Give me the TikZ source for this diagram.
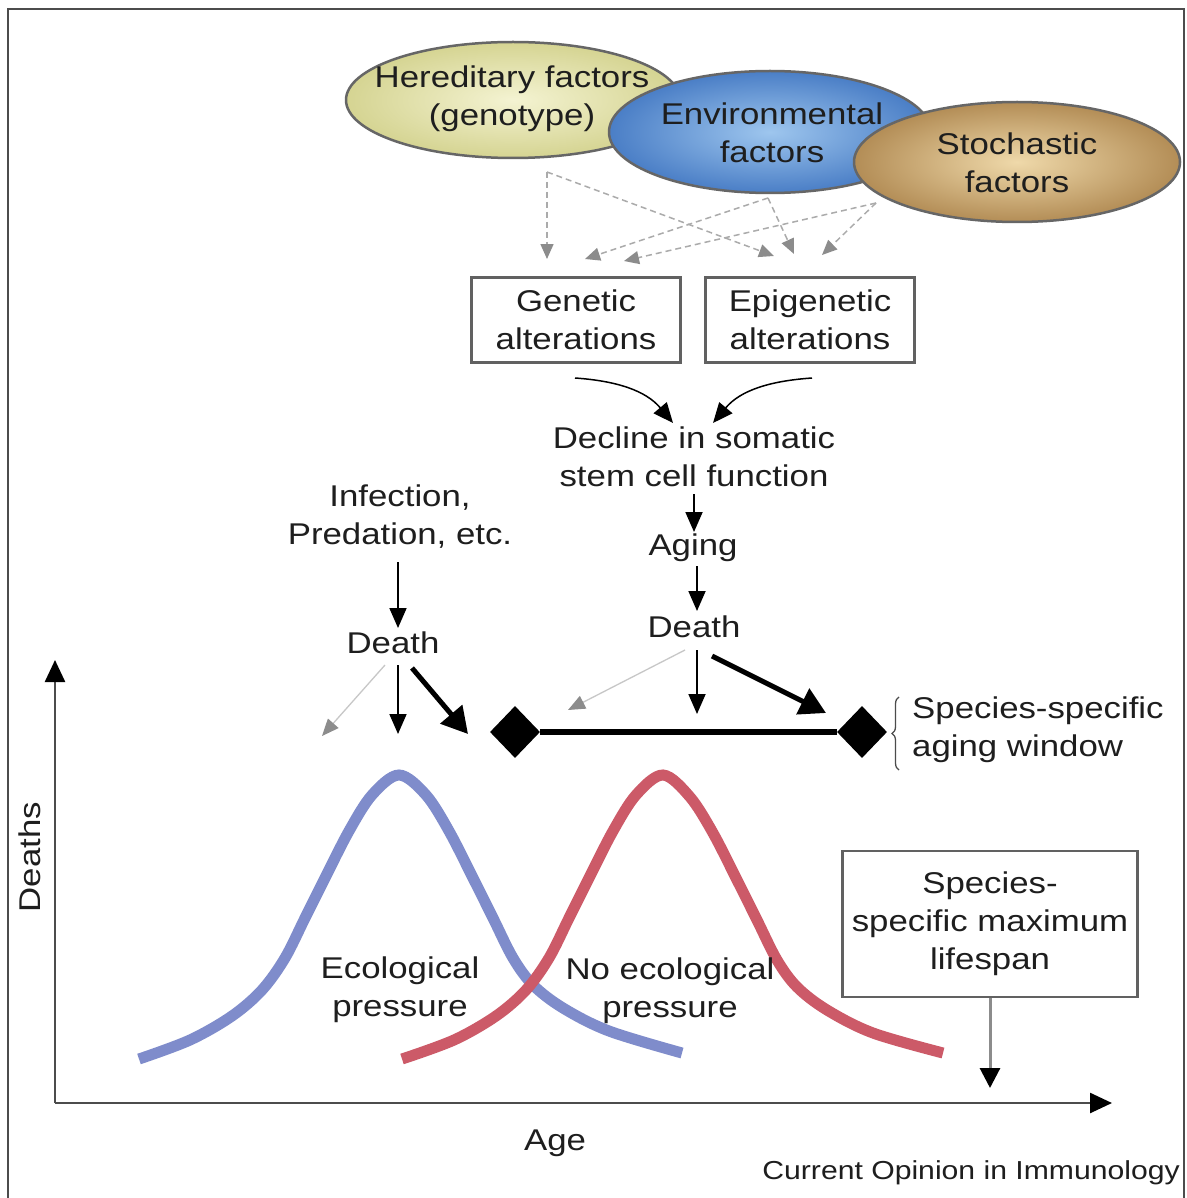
\documentclass[tikz,border=0pt]{standalone}
\usepackage{fontspec}
\setmainfont{Liberation Sans}[FakeStretch=1.16]
\usetikzlibrary{arrows.meta,shapes.geometric,decorations.pathreplacing}
\definecolor{heredin}{HTML}{F4F3D2}
\definecolor{heredout}{HTML}{D5D492}
\definecolor{envin}{HTML}{9EC6EE}
\definecolor{envout}{HTML}{4A7EC6}
\definecolor{stoin}{HTML}{EFD9AA}
\definecolor{stoout}{HTML}{B38D56}
\definecolor{bluecurve}{HTML}{7F8CCB}
\definecolor{redcurve}{HTML}{CC5A68}
\definecolor{txtcol}{HTML}{1E1E1E}
\begin{document}
\begin{tikzpicture}[x=1pt,y=-1pt,
  txt/.style={font=\fontsize{30}{38}\selectfont, align=center, text=txtcol, inner sep=0pt},
  smalltxt/.style={font=\fontsize{26}{30}\selectfont, text=txtcol, inner sep=0pt},
  box/.style={txt, draw=black!62, line width=2.5pt, fill=white, minimum width=209pt, minimum height=85pt},
  ell/.style={ellipse, draw=black!60, line width=2.5pt, inner sep=0pt},
  dasharrow/.style={draw=black!33, dash pattern=on 6pt off 4pt, line width=1.5pt, -{Triangle[length=15pt,width=13pt,color=black!45]}},
  blkarrow/.style={draw=black, line width=1.8pt, -{Triangle[length=20pt,width=17pt]}},
  boldarrow/.style={draw=black, line width=5pt, -{Triangle[length=26pt,width=28pt]}},
  thinarrow/.style={draw=black!22, line width=1.3pt, -{Triangle[length=17pt,width=14pt,color=black!45]}},
  axisline/.style={draw=black!70, line width=2.5pt, -{Triangle[length=22pt,width=20pt,color=black]}},
  curve/.style={line width=11pt, line cap=butt}
]
\useasboundingbox (0,0) rectangle (1186,1198);
\fill[white] (0,0) rectangle (1186,1198);
% frame
\draw[black!70, line width=2.5pt] (8,1200) -- (8,9) -- (1184,9) -- (1184,1200);

% ellipses
\node[ell, minimum width=334pt, minimum height=116pt, inner color=heredin, outer color=heredout] (hered) at (513,100) {};
\node[txt] (heredt) at (512,99) {Hereditary factors\\(genotype)};
\node[ell, minimum width=322pt, minimum height=122pt, inner color=envin, outer color=envout] (env) at (770,132) {};
\node[txt] (envt) at (772,133) {Environmental\\factors};
\node[ell, minimum width=326pt, minimum height=120pt, inner color=stoin, outer color=stoout] (sto) at (1017,162) {};
\node[txt] (stot) at (1017,163) {Stochastic\\factors};

% boxes
\node[box] (gen) at (576,320) {Genetic\\alterations};
\node[box] (epi) at (810,320) {Epigenetic\\alterations};

% dashed arrows
\coordinate (h1) at (547,172);
\coordinate (e1) at (768,198);
\coordinate (s1) at (876,203);
\coordinate (g1) at (547,259);
\coordinate (g2) at (585,259);
\coordinate (g3) at (624,261);
\coordinate (p1) at (774,256);
\coordinate (p2) at (794,254);
\coordinate (p3) at (822,255);
\draw[dasharrow] (h1) -- (g1);
\draw[dasharrow] (h1) -- (p1);
\draw[dasharrow] (e1) -- (g2);
\draw[dasharrow] (e1) -- (p2);
\draw[dasharrow] (s1) -- (g3);
\draw[dasharrow] (s1) -- (p3);

% decline
\node[txt] (decl) at (694,457) {Decline in somatic\\stem cell function};
\coordinate (gc) at (575,378);
\coordinate (ec) at (812,378);
\coordinate (dl) at (673,423);
\coordinate (dr) at (713,423);
\draw[blkarrow, line width=1.5pt] (gc) to[out=-4,in=130] (dl);
\draw[blkarrow, line width=1.5pt] (ec) to[out=184,in=50] (dr);

\node[txt] (aging) at (693,548) {Aging};
\coordinate (da) at (694,494);
\coordinate (db) at (694,532);
\draw[blkarrow] (da) -- (db);
\node[txt] (death2) at (694,627) {Death};
\coordinate (dc) at (697,566);
\coordinate (dd) at (697,611);
\draw[blkarrow] (dc) -- (dd);

% infection
\node[txt] (inf) at (400,517) {Infection,\\Predation, etc.};
\node[txt] (death1) at (393,643) {Death};
\coordinate (ia) at (398,562);
\coordinate (ib) at (398,628);
\draw[blkarrow] (ia) -- (ib);

% arrows from deaths
\coordinate (d1a) at (385,665);
\coordinate (d1b) at (398,665);
\coordinate (d1c) at (412,668);
\coordinate (t1a) at (322,736);
\coordinate (t1b) at (398,734);
\coordinate (t1c) at (468,734);
\draw[thinarrow] (d1a) -- (t1a);
\draw[blkarrow] (d1b) -- (t1b);
\draw[boldarrow] (d1c) -- (t1c);

\coordinate (d2a) at (685,650);
\coordinate (d2b) at (697,650);
\coordinate (d2c) at (712,656);
\coordinate (t2a) at (568,710);
\coordinate (t2b) at (697,714);
\coordinate (t2c) at (826,713);
\draw[thinarrow] (d2a) -- (t2a);
\draw[blkarrow] (d2b) -- (t2b);
\draw[boldarrow] (d2c) -- (t2c);

% aging window
\node[diamond, fill=black, minimum width=50pt, minimum height=52pt, inner sep=0pt] (wl) at (515,732) {};
\node[diamond, fill=black, minimum width=50pt, minimum height=52pt, inner sep=0pt] (wr) at (862,732) {};
\draw[line width=6pt] (wl) -- (wr);
\draw[black!70, line width=1.3pt, decorate, decoration={brace, amplitude=7pt, mirror}] (899,697) -- (899,770);
\node[txt, anchor=west, align=left] (win) at (912,730) {Species-specific\\aging window};

% axes
\coordinate (o) at (55,1103);
\coordinate (ytop) at (55,660);
\coordinate (xend) at (1112,1103);
\draw[axisline] (o) -- (ytop);
\draw[axisline] (o) -- (xend);
\node[txt, rotate=90] (deaths) at (30,857) {Deaths};
\node[txt] (age) at (555,1143) {Age};

% curves
\draw[curve, bluecurve] plot[smooth, tension=0.55] coordinates {(139,1059) (190,1040) (232,1016) (262,990) (285,958) (305,918) (325,878) (349,831) (372,795) (399,775) (426,795) (449,831) (473,878) (493,918) (513,958) (533,985) (563,1008) (609,1031) (682,1053)};
\draw[curve, redcurve] plot[smooth, tension=0.55] coordinates {(402,1059) (454,1040) (496,1016) (526,990) (549,958) (569,918) (589,878) (613,831) (636,795) (663,775) (690,797) (713,833) (737,880) (757,920) (777,960) (797,987) (827,1010) (873,1033) (943,1053)};

\node[txt] (eco) at (400,990) {Ecological\\pressure};
\node[txt] (noeco) at (670,991) {No ecological\\pressure};

% lifespan box
\node[box, minimum width=295pt, minimum height=146pt] (life) at (990,924) {Species-\\specific maximum\\lifespan};
\coordinate (lt) at (990,1088);
\draw[draw=black!45, line width=3pt, -{Triangle[length=20pt,width=20pt,color=black]}] (life.south) -- (lt);

% caption
\node[smalltxt, anchor=east] (cap) at (1180,1173) {Current Opinion in Immunology};
\end{tikzpicture}
\end{document}
